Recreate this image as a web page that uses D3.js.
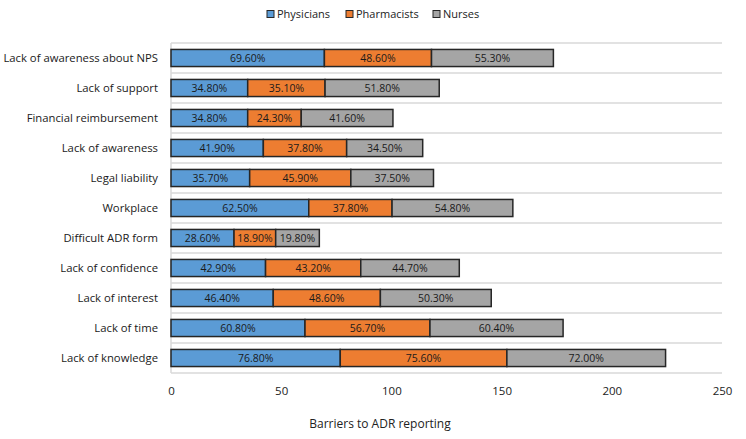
<!DOCTYPE html>
<html><head><meta charset="utf-8">
<script src="https://cdn.jsdelivr.net/npm/d3@7"></script>
<style>body{margin:0;background:#fff}svg{display:block}text{font-family:"Open Sans",sans-serif}</style>
</head><body><svg id="c" width="746" height="439"></svg>
<script>
const categories = ["Lack of awareness about NPS","Lack of support","Financial reimbursement","Lack of awareness","Legal liability","Workplace","Difficult ADR form","Lack of confidence","Lack of interest","Lack of time","Lack of knowledge"];
const seriesNames = ["Physicians","Pharmacists","Nurses"];
const physicians = [69.6,34.8,34.8,41.9,35.7,62.5,28.6,42.9,46.4,60.8,76.8];
const pharmacists = [48.6,35.1,24.3,37.8,45.9,37.8,18.9,43.2,48.6,56.7,75.6];
const nurses = [55.3,51.8,41.6,34.5,37.5,54.8,19.8,44.7,50.3,60.4,72.0];
const xTicks = [0,50,100,150,200,250];
const colors = ["#5B9BD5","#ED7D31","#A5A5A5"];

const svg = d3.select("#c");
const m = {l:171, r:722, t:43, b:373};
const x = d3.scaleLinear().domain([0,250]).range([m.l,m.r]);
const y = d3.scaleBand().domain(categories).range([m.t,m.b]).paddingInner(0.43).paddingOuter(0.215);
const yb = d3.scaleBand().domain(categories).range([m.t,m.b]);

const bounds = categories.map(c=>yb(c)).concat([m.b]);
svg.append("g").selectAll("line").data(bounds).join("line")
  .attr("x1",m.l).attr("x2",m.r).attr("y1",d=>d).attr("y2",d=>d)
  .attr("stroke","#d9d9d9").attr("stroke-width",1.5);
svg.append("line").attr("x1",m.l).attr("x2",m.l).attr("y1",m.t).attr("y2",m.b).attr("stroke","#d9d9d9").attr("stroke-width",1.5);

const data = [physicians,pharmacists,nurses];
const rows = categories.map((c,i)=>({cat:c, vals:data.map(s=>s[i])}));
const stack = d3.stack().keys([0,1,2]).value((d,k)=>d.vals[k]);
const stacked = stack(rows);

const g = svg.append("g");
stacked.forEach((layer,k)=>{
  g.append("g").selectAll("rect").data(layer).join("rect")
    .attr("x",d=>x(d[0])).attr("width",d=>x(d[1])-x(d[0]))
    .attr("y",d=>y(d.data.cat)).attr("height",y.bandwidth())
    .attr("fill",colors[k]).attr("stroke","#262626").attr("stroke-width",1.5);
});
stacked.forEach((layer,k)=>{
  g.append("g").selectAll("text").data(layer).join("text")
    .attr("x",d=>(x(d[0])+x(d[1]))/2).attr("y",d=>y(d.data.cat)+y.bandwidth()/2)
    .attr("dy","0.35em").attr("text-anchor","middle")
    .attr("font-size","10.5px").attr("fill","#1a1a1a")
    .text(d=>d.data.vals[k].toFixed(2)+"%");
});

svg.append("g").selectAll("text").data(categories).join("text")
  .attr("x",158).attr("y",d=>yb(d)+yb.bandwidth()/2).attr("dy","0.35em")
  .attr("text-anchor","end").attr("font-size","11.3px").attr("fill","#1a1a1a").text(d=>d);

const xa = svg.append("g").attr("transform",`translate(0,${m.b+18})`)
  .call(d3.axisBottom(x).tickValues(xTicks).tickSize(0).tickPadding(0));
xa.select(".domain").remove();
xa.selectAll("text").attr("font-size","11.5px").attr("fill","#222").attr("font-family","'Open Sans',sans-serif").attr("dy","0.35em").attr("y",0);

svg.append("text").attr("x",380).attr("y",424).attr("dy","0.35em").attr("text-anchor","middle")
  .attr("font-size","12px").attr("fill","#222").text("Barriers to ADR reporting");

const legX = [267,346,433];
const lg = svg.append("g");
seriesNames.forEach((n,k)=>{
  lg.append("rect").attr("x",legX[k]).attr("y",10.5).attr("width",7).attr("height",7)
    .attr("fill",colors[k]).attr("stroke","#262626").attr("stroke-width",1);
  lg.append("text").attr("x",legX[k]+10).attr("y",14).attr("dy","0.35em")
    .attr("font-size","11px").attr("fill","#222").text(n);
});
</script></body></html>
